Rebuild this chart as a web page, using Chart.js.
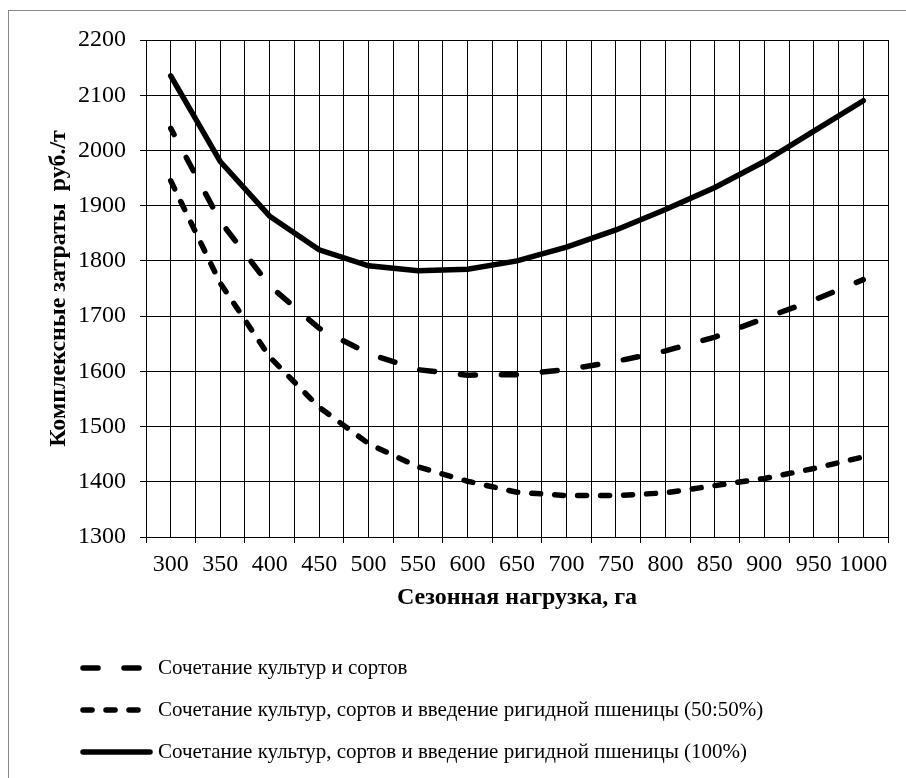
<!DOCTYPE html>
<html>
<head>
<meta charset="utf-8">
<script src="https://cdn.jsdelivr.net/npm/chart.js@4.4.1/dist/chart.umd.min.js"></script>
<style>
  html, body { margin: 0; padding: 0; background: #fff; overflow: hidden; }
  #wrap { position: relative; width: 906px; height: 778px; }
  #frame { position: absolute; left: 8px; top: 10px; width: 930px; height: 800px; border: 1px solid #888; }
  #chart { position: absolute; left: 0; top: 0; }
</style>
</head>
<body>
<div id="wrap">
  <div id="frame"></div>
  <canvas id="chart" width="906" height="778"></canvas>
</div>
<script>
// seasonal load, ha
const loads = [300, 350, 400, 450, 500, 550, 600, 650, 700, 750, 800, 850, 900, 950, 1000];

// complex costs, rub/t
const cropsAndVarieties = [2040, 1872, 1755, 1678, 1632, 1603, 1593, 1594, 1603, 1618, 1637, 1662, 1696, 1729, 1766];
const durumHalf = [1945, 1760, 1626, 1535, 1469, 1427, 1401, 1381, 1375, 1375, 1380, 1393, 1406, 1424, 1445];
const durumFull = [2135, 1980, 1881, 1820, 1791, 1782, 1785, 1800, 1825, 1856, 1893, 1933, 1980, 2035, 2090];

const seriesNames = [
  'Сочетание культур и сортов',
  'Сочетание культур, сортов и введение ригидной пшеницы (50:50%)',
  'Сочетание культур, сортов и введение ригидной пшеницы (100%)'
];

const yMin = 1300, yMax = 2200, yStep = 100;
const xTitle = 'Сезонная нагрузка, га';
const yTitle = 'Комплексные затраты  руб./т';

const serif = '"Times New Roman", "Liberation Serif", serif';
Chart.defaults.font.family = serif;
Chart.defaults.font.size = 24;
Chart.defaults.color = '#000';

function toPoints(values) {
  return values.map((v, i) => ({x: loads[i], y: v}));
}

// legend drawn as a vertical list under the axis title
const listLegend = {
  id: 'listLegend',
  afterDraw(chart) {
    const ctx = chart.ctx;
    chart.data.datasets.forEach((ds, i) => {
      const y = 668 + i * 42;
      const len = ds.borderDash.length ? 60 : 67;
      ctx.save();
      ctx.strokeStyle = ds.borderColor;
      ctx.lineWidth = ds.borderWidth;
      ctx.lineCap = 'round';
      ctx.setLineDash(ds.borderDash);
      ctx.beginPath();
      ctx.moveTo(83, y);
      ctx.lineTo(83 + len, y);
      ctx.stroke();
      ctx.setLineDash([]);
      ctx.fillStyle = '#000';
      ctx.font = '21px ' + serif;
      ctx.textBaseline = 'middle';
      ctx.fillText(ds.label, 158, y);
      ctx.restore();
    });
  }
};

new Chart(document.getElementById('chart'), {
  type: 'line',
  data: {
    datasets: [
      {label: seriesNames[0], data: toPoints(cropsAndVarieties), borderDash: [15, 26], borderDashOffset: 8},
      {label: seriesNames[1], data: toPoints(durumHalf), borderDash: [9, 14]},
      {label: seriesNames[2], data: toPoints(durumFull), borderDash: []}
    ].map(d => Object.assign({
      borderColor: '#000',
      borderWidth: 5.5,
      borderCapStyle: 'round',
      pointRadius: 0,
      tension: 0,
      fill: false
    }, d))
  },
  options: {
    responsive: false,
    animation: false,
    layout: {padding: {left: 0, top: 40, right: 18, bottom: 161}},
    plugins: {
      legend: {display: false},
      tooltip: {enabled: false}
    },
    scales: {
      x: {
        type: 'linear',
        min: loads[0] - 25,
        max: loads[loads.length - 1] + 25,
        afterFit(scale) { scale.height = 80; },
        border: {color: '#000', width: 1},
        grid: {
          color: '#000',
          lineWidth: 1,
          tickLength: 6,
          tickColor: (c) => (c.tick && c.tick.value % 50 === 25) ? '#000' : 'rgba(0,0,0,0)'
        },
        ticks: {
          stepSize: 25,
          autoSkip: false,
          maxRotation: 0,
          minRotation: 0,
          padding: 7,
          callback: (v) => loads.includes(v) ? String(v) : ''
        },
        title: {
          display: true,
          text: xTitle,
          font: {size: 24, weight: 'bold'},
          padding: {top: 0, bottom: 5}
        }
      },
      y: {
        min: yMin,
        max: yMax,
        afterFit(scale) { scale.width = 146; },
        border: {color: '#000', width: 1},
        grid: {color: '#000', lineWidth: 1, tickLength: 6},
        ticks: {stepSize: yStep, padding: 14, callback: (v) => String(v)},
        title: {
          display: true,
          text: yTitle,
          font: {size: 24, weight: 'bold'},
          padding: {top: 44, bottom: 0}
        }
      }
    }
  },
  plugins: [listLegend]
});
</script>
</body>
</html>
